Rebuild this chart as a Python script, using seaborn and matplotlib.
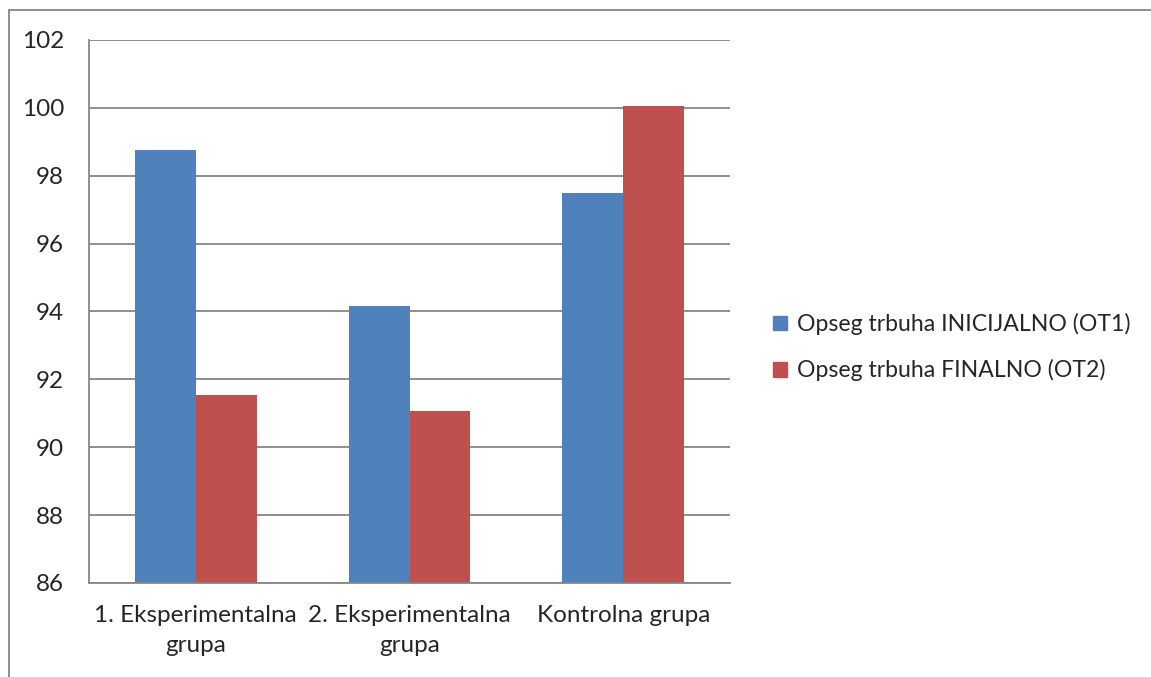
import pandas as pd
import matplotlib.pyplot as plt
import matplotlib.patches as mpatches
import seaborn as sns

# Podaci
grupe = ["1. Eksperimentalna\ngrupa", "2. Eksperimentalna\ngrupa", "Kontrolna grupa"]
ot1 = [98.75, 94.15, 97.5]
ot2 = [91.53, 91.07, 100.05]
serije = ["Opseg trbuha INICIJALNO (OT1)", "Opseg trbuha FINALNO (OT2)"]
y_ticks = [86, 88, 90, 92, 94, 96, 98, 100, 102]

df = pd.DataFrame({
    "grupa": grupe * 2,
    "serija": [serije[0]] * 3 + [serije[1]] * 3,
    "vrijednost": ot1 + ot2,
})

sns.set_style("white")
plt.rcParams['font.family'] = ['Lato', 'DejaVu Sans']

fig = plt.figure(figsize=(11.51, 6.77), dpi=100)
ax = fig.add_axes([0.0773, 0.1389, 0.5570, 0.8022])

boje = ["#4F81BD", "#C0504D"]
sns.barplot(data=df, x="grupa", y="vrijednost", hue="serija", palette=boje,
            errorbar=None, width=0.57, saturation=1, linewidth=0, ax=ax)

siva = "#868686"
ax.set_ylim(86, 102)
ax.set_yticks(y_ticks)
ax.set_xlim(-0.5, 2.5)
ax.yaxis.grid(True, color=siva, linewidth=1.3)
ax.set_axisbelow(True)
for s in ["top", "right"]:
    ax.spines[s].set_visible(False)
for s in ["left", "bottom"]:
    ax.spines[s].set_color(siva)
    ax.spines[s].set_linewidth(1.3)

ax.set_xticks([-0.5, 0.5, 1.5, 2.5], minor=True)
ax.tick_params(axis="x", which="major", length=0, labelsize=17.5, pad=16)
ax.tick_params(axis="x", which="minor", length=6, color=siva, width=1.3, direction="out")
ax.tick_params(axis="y", length=6, color=siva, width=1.3, direction="out",
               labelsize=17.5, pad=12)
for lbl in ax.get_xticklabels():
    lbl.set_linespacing(1.5)
ax.set_xlabel("")
ax.set_ylabel("")

# Legenda
ax.get_legend().remove()
ruke = [mpatches.Patch(color=b) for b in boje]
fig.legend(ruke, serije, loc="center left", bbox_to_anchor=(0.6615, 0.487),
           frameon=False, fontsize=16.6, handlelength=0.6, handleheight=0.6,
           handletextpad=0.45, labelspacing=1.05, borderpad=0)

# Okvir oko grafikona
fig.patches.append(mpatches.Rectangle((0.0075, -0.01), 1.1, 0.9955,
                                      transform=fig.transFigure, fill=False,
                                      edgecolor=siva, linewidth=1.3))

plt.savefig("out.png", dpi=100)
